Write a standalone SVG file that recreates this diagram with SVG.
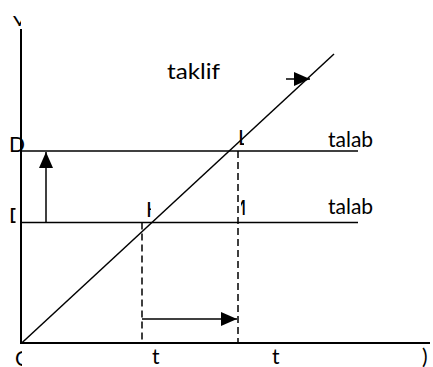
<svg xmlns="http://www.w3.org/2000/svg" width="433" height="367" viewBox="0 0 433 367">
<style>
.ln{stroke:#000;stroke-width:1.5;fill:none}
.ax{stroke:#000;stroke-width:2;fill:none}
.ds{stroke:#000;stroke-width:1.5;fill:none;stroke-dasharray:7 4}
.t{font-family:Lato,"Liberation Sans",sans-serif;font-size:21px;fill:#000}
</style>
<defs>
<marker id="ah" viewBox="0 0 16 14" refX="16" refY="7" markerWidth="16" markerHeight="14" markerUnits="userSpaceOnUse" orient="auto">
<path d="M0,0 L16,7 L0,14 Z" fill="#000"/>
</marker>
<clipPath id="cY"><rect x="0" y="0" width="21" height="26"/></clipPath>
<clipPath id="cD2"><rect x="0" y="200" width="15.5" height="30"/></clipPath>
<clipPath id="cH"><rect x="146" y="195" width="5" height="25"/></clipPath>
<clipPath id="cL"><rect x="238" y="125" width="6" height="25"/></clipPath>
<clipPath id="cM"><rect x="241" y="195" width="6" height="25"/></clipPath>
<clipPath id="cO"><rect x="0" y="345" width="22" height="22"/></clipPath>
</defs>
<g id="connectors">
<line class="ax" x1="21" y1="29" x2="21" y2="344"/>
<line class="ax" x1="20" y1="343" x2="430" y2="343"/>
<line class="ln" x1="21" y1="151" x2="358" y2="151"/>
<line class="ln" x1="21" y1="222.5" x2="358" y2="222.5"/>
<line class="ln" x1="21.7" y1="343" x2="334" y2="54"/>
<line class="ds" x1="142" y1="222.5" x2="142" y2="343"/>
<line class="ds" x1="238" y1="151" x2="238" y2="343"/>
<line class="ln" x1="46" y1="222.5" x2="46" y2="152" marker-end="url(#ah)"/>
<line class="ln" x1="142" y1="319" x2="237" y2="319" marker-end="url(#ah)"/>
<line class="ln" x1="286" y1="79" x2="310" y2="79" marker-end="url(#ah)"/>
</g>
<g id="labels">
<text class="t" x="13" y="31" clip-path="url(#cY)">Y</text>
<text class="t" x="9" y="152">D</text>
<text class="t" x="9" y="223" clip-path="url(#cD2)">D</text>
<text class="t" x="167" y="79" font-size="22" textLength="53" lengthAdjust="spacingAndGlyphs">taklif</text>
<text class="t" x="328" y="147" font-size="20.5">talab</text>
<text class="t" x="328" y="214" font-size="20.5">talab</text>
<text class="t" x="146" y="217" clip-path="url(#cH)">H</text>
<text class="t" x="238" y="145" clip-path="url(#cL)">L</text>
<text class="t" x="227" y="215" clip-path="url(#cM)">M</text>
<text class="t" x="15" y="366" clip-path="url(#cO)">O</text>
<text class="t" x="152" y="364">t</text>
<text class="t" x="272" y="364">t</text>
<text class="t" x="422" y="364">)</text>
</g>
</svg>
